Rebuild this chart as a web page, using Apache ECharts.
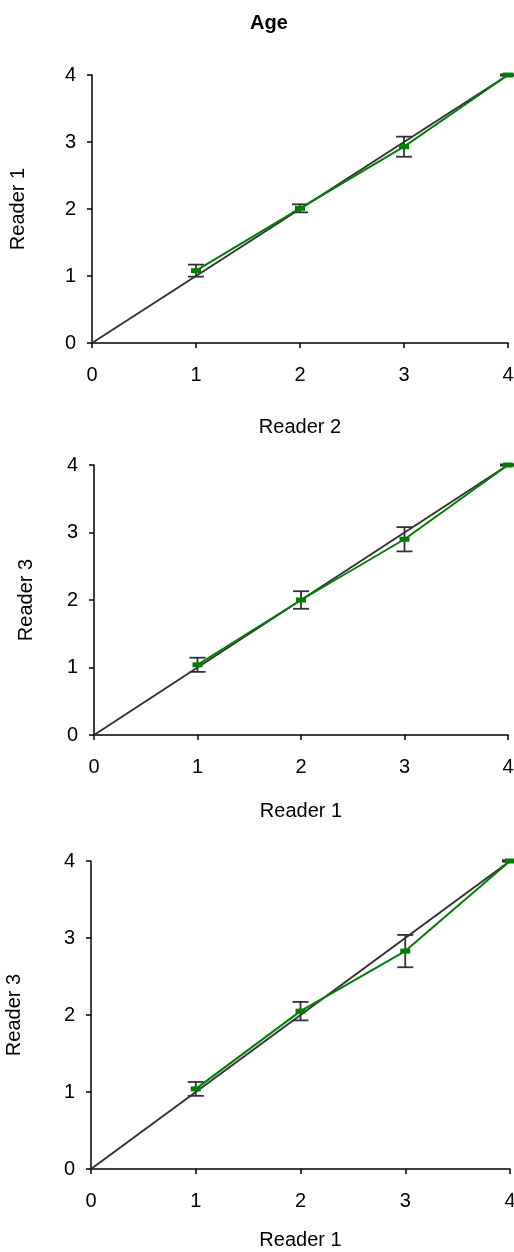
<!DOCTYPE html>
<html>
<head>
<meta charset="utf-8">
<title>Age</title>
<script src="https://cdn.jsdelivr.net/npm/echarts@6/dist/echarts.min.js"></script>
<style>
  html, body { margin: 0; padding: 0; background: #fff; }
  #chart { width: 514px; height: 1252px; }
</style>
</head>
<body>
<div id="chart"></div>
<script>
// Mean score of one reader against the other reader's grade, with error bars
const grades = [1, 2, 3, 4];
const axisTicks = [0, 1, 2, 3, 4];

const r1VsR2Mean = [1.08, 2.01, 2.93, 4.0];
const r1VsR2Err  = [0.09, 0.06, 0.15, 0.01];

const r3VsR1Mean = [1.04, 2.0, 2.9, 4.0];
const r3VsR1Err  = [0.105, 0.13, 0.18, 0.01];

const r3VsR1bMean = [1.04, 2.05, 2.83, 4.0];
const r3VsR1bErr  = [0.09, 0.12, 0.21, 0.01];

const panelTitles = [
  { x: 'Reader 2', y: 'Reader 1' },
  { x: 'Reader 1', y: 'Reader 3' },
  { x: 'Reader 1', y: 'Reader 3' }
];
const panelMeans = [r1VsR2Mean, r3VsR1Mean, r3VsR1bMean];
const panelErrs = [r1VsR2Err, r3VsR1Err, r3VsR1bErr];

const FONT = '"Liberation Sans", Arial, sans-serif';
const INK = '#000';
const DIAG = '#333';
const GREEN = '#008000';

// layout of the three stacked panels
const grids = [
  { left: 92, right: 6, top: 75, height: 268, outerBoundsMode: 'none', containLabel: false },
  { left: 94, right: 6, top: 465, height: 270, outerBoundsMode: 'none', containLabel: false },
  { left: 91, right: 4, top: 861, height: 308, outerBoundsMode: 'none', containLabel: false }
];
const xNameGaps = [74, 66, 61];
const yNameGaps = [64, 58, 67];

function axisBase() {
  return {
    type: 'value',
    min: axisTicks[0],
    max: axisTicks[axisTicks.length - 1],
    interval: 1,
    axisLine: { show: true, onZero: false, lineStyle: { color: INK, width: 1.5 } },
    axisTick: { show: true, inside: false, length: 5, lineStyle: { color: INK, width: 1.5 } },
    splitLine: { show: false },
    nameLocation: 'middle',
    nameTextStyle: { fontFamily: FONT, fontSize: 20, color: INK }
  };
}

const xAxes = [], yAxes = [], series = [];
panelTitles.forEach((t, i) => {
  xAxes.push(Object.assign(axisBase(), {
    gridIndex: i,
    name: t.x,
    nameGap: xNameGaps[i],
    axisLabel: { fontFamily: FONT, fontSize: 20, color: INK, margin: 22 }
  }));
  yAxes.push(Object.assign(axisBase(), {
    gridIndex: i,
    name: t.y,
    nameGap: yNameGaps[i],
    axisLabel: { fontFamily: FONT, fontSize: 20, color: INK, margin: 16 }
  }));

  // line of perfect agreement
  series.push({
    type: 'line',
    xAxisIndex: i, yAxisIndex: i,
    data: [[axisTicks[0], axisTicks[0]], [axisTicks[4], axisTicks[4]]],
    symbol: 'none',
    lineStyle: { color: DIAG, width: 2 },
    silent: true, z: 2
  });

  // error bars: mean ± error
  const bars = grades.map((g, k) => [g, panelMeans[i][k] - panelErrs[i][k], panelMeans[i][k] + panelErrs[i][k]]);
  series.push({
    type: 'custom',
    xAxisIndex: i, yAxisIndex: i,
    data: bars,
    z: 3,
    renderItem: function (params, api) {
      const lo = api.coord([api.value(0), api.value(1)]);
      const hi = api.coord([api.value(0), api.value(2)]);
      const cap = 8;
      const style = { stroke: DIAG, lineWidth: 1.8 };
      return {
        type: 'group',
        children: [
          { type: 'line', shape: { x1: lo[0], y1: lo[1], x2: hi[0], y2: hi[1] }, style: style },
          { type: 'line', shape: { x1: hi[0] - cap, y1: hi[1], x2: hi[0] + cap, y2: hi[1] }, style: style },
          { type: 'line', shape: { x1: lo[0] - cap, y1: lo[1], x2: lo[0] + cap, y2: lo[1] }, style: style }
        ]
      };
    }
  });

  // mean scores
  series.push({
    type: 'line',
    xAxisIndex: i, yAxisIndex: i,
    data: grades.map((g, k) => [g, panelMeans[i][k]]),
    symbol: 'rect',
    symbolSize: [10, 5],
    itemStyle: { color: GREEN },
    lineStyle: { color: GREEN, width: 2 },
    z: 4
  });
});

const chart = echarts.init(document.getElementById('chart'), null, { renderer: 'canvas' });
chart.setOption({
  backgroundColor: '#fff',
  animation: false,
  title: {
    text: 'Age',
    left: 245,
    top: 8,
    textStyle: { fontFamily: FONT, fontSize: 20, fontWeight: 'bold', color: INK }
  },
  grid: grids,
  xAxis: xAxes,
  yAxis: yAxes,
  series: series
});
</script>
</body>
</html>
